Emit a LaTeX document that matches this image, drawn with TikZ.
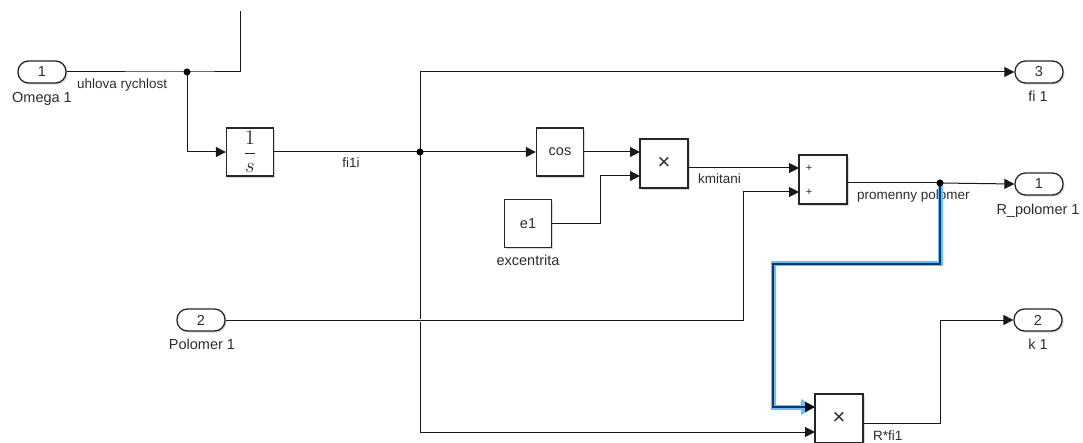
\documentclass[tikz,border=0pt]{standalone}
\usepackage{graphicx}
\usepackage{fontspec}
\setmainfont{Liberation Sans}
\usetikzlibrary{arrows.meta,shadows}
\definecolor{halo}{RGB}{100,190,255}
\definecolor{core}{RGB}{20,55,100}
\definecolor{txt}{RGB}{45,45,45}
\begin{document}
\begin{tikzpicture}[x=1pt,y=-1pt,
  shd/.style={drop shadow={shadow xshift=1.6pt,shadow yshift=-1.6pt,opacity=0.3}},
  blk/.style={draw=black!85,line width=1.3pt,fill=white,minimum width=47pt,minimum height=48pt,inner sep=0pt,shd,font=\fontsize{14.5}{16}\selectfont,text=txt},
  port/.style={draw=black!85,line width=1.3pt,fill=white,rounded corners=10.5pt,minimum width=48pt,minimum height=22pt,inner sep=0pt,shd,font=\fontsize{14.5}{16}\selectfont,text=txt},
  sig/.style={draw=black!90,line width=1pt},
  arr/.style={sig,-{Triangle[length=10pt,width=10pt]}},
  lbl/.style={font=\fontsize{13.5}{16}\selectfont,text=txt,inner sep=0pt},
  blbl/.style={font=\fontsize{14.5}{16}\selectfont,text=txt,inner sep=0pt},
  dot/.style={circle,fill=black,inner sep=0pt,minimum size=7pt},
  pls/.style={font=\fontsize{11}{12}\selectfont,text=txt,inner sep=0pt},
  mul/.style={font=\fontsize{22}{24}\selectfont}
]
\useasboundingbox (0,0) rectangle (1083,443);

% blocks
\node[port] (in1) at (42,72) {1};
\node[port] (pol) at (201,320) {2};
\node[port] (out3) at (1039,72) {3};
\node[port] (out1) at (1039,184) {1};
\node[port] (out2) at (1038,320) {2};
\node[blk] (int) at (250,152) {\scalebox{1.45}{$\displaystyle\frac{1}{s}$}};
\node[blk] (cos) at (560,152) {cos};
\node[blk] (e1) at (528,223.5) {e1};
\node[blk,mul,minimum width=48pt,minimum height=49pt] (p1) at (664,163.5) {×};
\node[blk,minimum width=48pt,minimum height=49pt] (sum) at (823,179.5) {};
\node[pls] (plus1) at (809,168) {+};
\node[pls] (plus2) at (809,192) {+};
\node[blk,mul,minimum width=48pt,minimum height=49pt] (p2) at (839,418.5) {×};

% block labels
\node[blbl,anchor=base] (lomega) at (42,103) {Omega 1};
\node[blbl,anchor=base] (lpol) at (202,349) {Polomer 1};
\node[blbl,anchor=base] (lfi) at (1038,102) {fi 1};
\node[blbl,anchor=base] (lrp) at (1038,215) {R\_polomer 1};
\node[blbl,anchor=base] (lk) at (1038,349) {k 1};
\node[blbl,anchor=base] (lexc) at (528,266) {excentrita};

% signal labels
\node[lbl,anchor=base west] (luhl) at (77,89) {uhlova rychlost};
\node[lbl,anchor=base] (lfi1i) at (351,168) {fi1i};
\node[lbl,anchor=base west] (lkm) at (698,184) {kmitani};
\node[lbl,anchor=base west] (lprom) at (857,200) {promenny polomer};
\node[lbl,anchor=base west] (lrfi) at (873,440) {R*fi1};

% coordinates
\coordinate (b1) at (187,72);
\coordinate (b2) at (420,152);
\coordinate (b3) at (940,183);
\coordinate (top) at (240,11);
\coordinate (p1in1) at (640,152);
\coordinate (p1in2) at (640,176);
\coordinate (p1out) at (688,168);
\coordinate (sin1) at (799,168);
\coordinate (sin2) at (799,192);
\coordinate (sout) at (847,183);
\coordinate (p2in1) at (815,407);
\coordinate (p2in2) at (815,432);
\coordinate (p2out) at (863,423);

% connectors
\draw[sig] (in1.east) -- (b1) -- (240,72) -- (top);
\draw[arr] (b1) |- (int.west);
\draw[sig] (int.east) -- (b2);
\draw[arr] (b2) |- (out3.west);
\draw[arr] (b2) -- (cos.west);
\draw[arr] (cos.east) -- (p1in1);
\draw[arr] (e1.east) -- (600,223.5) |- (p1in2);
\draw[arr] (p1out) -- (sin1);
\draw[arr] (b2) -- (420,432) -- (p2in2);
\draw[white,line width=3pt] (415,320) -- (425,320);
\draw[arr] (pol.east) -- (743,320) -- (743,192) -- (sin2);
\draw[sig] (sout) -- (b3);
\draw[arr] (b3) -- (out1.west);
\draw[draw=halo,line width=5pt,line join=miter,-{Triangle[length=14pt,width=15pt,color=halo]}] (b3) -- (940,264) -- (773,264) -- (773,407) -- (p2in1);
\draw[draw=core,line width=1.6pt,-{Triangle[length=10pt,width=10pt,color=black]}] (b3) -- (940,264) -- (773,264) -- (773,407) -- (p2in1);
\draw[arr] (p2out) -- (940,423) -- (940,320) -- (out2.west);

\node[dot] (d1) at (b1) {};
\node[dot] (d2) at (b2) {};
\node[dot] (d3) at (b3) {};
\end{tikzpicture}
\end{document}
